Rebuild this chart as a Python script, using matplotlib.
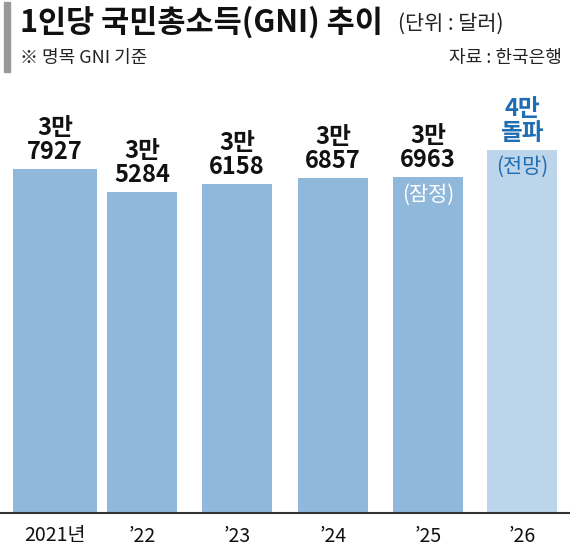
import matplotlib
matplotlib.use("Agg")
import matplotlib.pyplot as plt
from matplotlib.patches import Rectangle

plt.rcParams['font.family'] = ['Noto Sans CJK KR', 'DejaVu Sans']

years = ["2021년", "’22", "’23", "’24", "’25", "’26"]
values = [37927, 35284, 36158, 36857, 36963, 40100]
top_labels = ["3만\n7927", "3만\n5284", "3만\n6158", "3만\n6857", "3만\n6963", "4만\n돌파"]
notes = ["", "", "", "", "(잠정)", "(전망)"]

W, H = 570, 554
fig = plt.figure(figsize=(W/100, H/100), dpi=100)
fig.patch.set_facecolor('white')

def fx(px): return px / W
def fy(py): return 1 - py / H

ax = fig.add_axes([0, fy(512), 1, fy(100) - fy(512)])
ax.set_xlim(0, W)
ax.set_ylim(-1500, 45860)
centers = [55, 142, 237, 333, 428, 522]
widths = [84, 70, 70, 70, 70, 70]
colors = ['#8fb8da'] * 5 + ['#bcd5ea']
ax.bar(centers, [v + 1500 for v in values], bottom=-1500, width=widths, color=colors)
for i, (c, v) in enumerate(zip(centers, values)):
    col = '#1f6db3' if i == 5 else '#111111'
    ax.text(c, v + 600, top_labels[i], ha='center', va='bottom', fontsize=17,
            fontweight='bold', color=col, linespacing=1.0)
    if notes[i]:
        ncol = 'white' if i == 4 else '#1f6db3'
        ax.text(c, v - 700, notes[i], ha='center', va='top', fontsize=15, color=ncol)
ax.axis('off')

fig.add_artist(plt.Line2D([0, 1], [fy(513), fy(513)], color='#333333', lw=1.5))
for c, y in zip(centers, years):
    fig.text(fx(c), fy(536), y, ha='center', va='center', fontsize=14, color='#111111')

fig.patches.append(Rectangle((fx(4), fy(72)), fx(6), fy(2) - fy(72), transform=fig.transFigure,
                             color='#999999'))
fig.text(fx(20), fy(22), "1인당 국민총소득(GNI) 추이", fontsize=22, fontweight='bold',
         ha='left', va='center', color='#111111')
fig.text(fx(398), fy(24), "(단위 : 달러)", fontsize=15, ha='left', va='center', color='#222222')
fig.text(fx(20), fy(58), "※ 명목 GNI 기준", fontsize=13, ha='left', va='center', color='#222222')
fig.text(fx(562), fy(58), "자료 : 한국은행", fontsize=13, ha='right', va='center', color='#222222')

fig.savefig("out.png", dpi=100)
